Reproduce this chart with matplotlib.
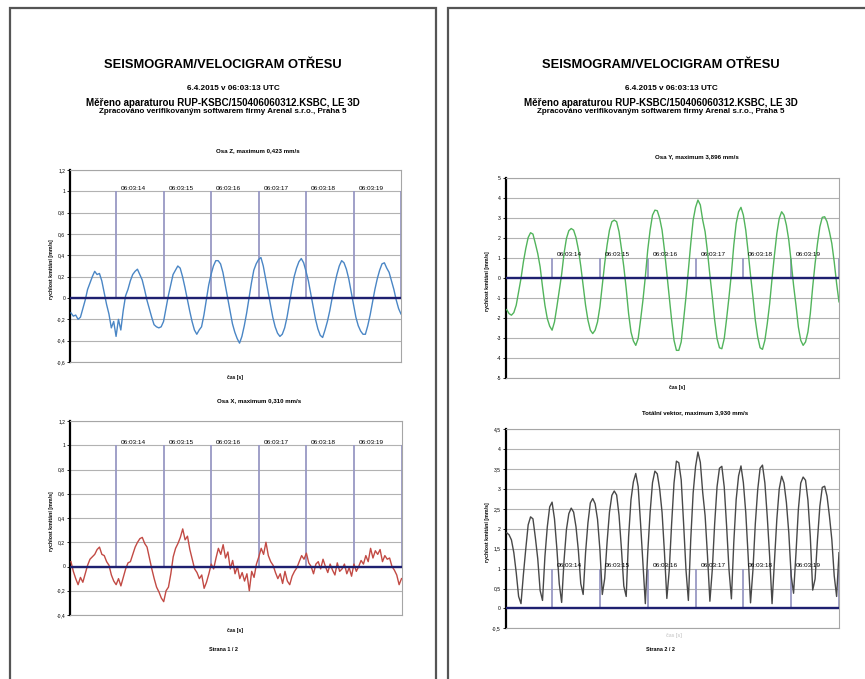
import numpy as np
import matplotlib.pyplot as plt
from matplotlib.patches import Rectangle

plt.rcParams['font.family'] = ['Liberation Sans', 'DejaVu Sans']

# casova osa zaznamu [s], vzorek po 0.05 s
cas = np.round(np.arange(13.05, 20.001, 0.05), 2)

# znacky celych sekund
sekundy = [14, 15, 16, 17, 18, 19, 20]
popisky_sekund = ['06:03:14', '06:03:15', '06:03:16', '06:03:17', '06:03:18', '06:03:19', '']

# osa Z [mm/s]
osa_z = [-0.14, -0.17, -0.16, -0.20, -0.18, -0.10, -0.02, 0.08, 0.14, 0.20,
         0.25, 0.22, 0.23, 0.16, 0.05, -0.06, -0.15, -0.28, -0.22, -0.36,
         -0.20, -0.30, -0.12, 0.02, 0.08, 0.16, 0.22, 0.25, 0.27, 0.22,
         0.17, 0.08, -0.02, -0.10, -0.18, -0.25, -0.27, -0.28, -0.27, -0.22,
         -0.10, 0.02, 0.12, 0.22, 0.26, 0.30, 0.28, 0.20, 0.10, -0.01,
         -0.12, -0.22, -0.30, -0.34, -0.30, -0.27, -0.16, -0.02, 0.12, 0.22,
         0.30, 0.35, 0.35, 0.32, 0.24, 0.12, 0.00, -0.12, -0.24, -0.32,
         -0.38, -0.423, -0.36, -0.26, -0.14, 0.00, 0.14, 0.26, 0.32, 0.36,
         0.38, 0.30, 0.18, 0.06, -0.06, -0.18, -0.27, -0.33, -0.36, -0.34,
         -0.28, -0.18, -0.05, 0.08, 0.20, 0.28, 0.34, 0.37, 0.33, 0.25,
         0.16, 0.04, -0.08, -0.20, -0.29, -0.35, -0.37, -0.30, -0.22, -0.12,
         0.00, 0.12, 0.22, 0.30, 0.35, 0.33, 0.27, 0.18, 0.06, -0.06,
         -0.18, -0.26, -0.31, -0.34, -0.34, -0.26, -0.16, -0.04, 0.08, 0.18,
         0.26, 0.32, 0.33, 0.28, 0.24, 0.16, 0.08, -0.02, -0.10, -0.15]

# osa X [mm/s]
osa_x = [0.04, -0.04, -0.10, -0.15, -0.09, -0.13, -0.06, 0.01, 0.06, 0.08,
         0.10, 0.14, 0.16, 0.10, 0.09, 0.04, 0.01, -0.07, -0.12, -0.15,
         -0.10, -0.16, -0.09, -0.02, 0.03, 0.04, 0.10, 0.16, 0.20, 0.23,
         0.24, 0.19, 0.16, 0.07, -0.02, -0.10, -0.17, -0.21, -0.26, -0.29,
         -0.20, -0.17, -0.06, 0.08, 0.15, 0.19, 0.24, 0.31, 0.22, 0.25,
         0.14, 0.06, -0.02, -0.05, -0.10, -0.07, -0.18, -0.13, -0.06, 0.02,
         -0.02, 0.07, 0.15, 0.10, 0.18, 0.07, 0.12, -0.02, 0.05, -0.06,
         0.00, -0.10, -0.05, -0.12, -0.06, -0.20, -0.04, -0.09, 0.02, 0.08,
         0.15, 0.10, 0.20, 0.09, 0.04, 0.01, -0.05, -0.10, -0.06, -0.14,
         -0.04, -0.12, -0.15, -0.08, -0.04, -0.01, 0.04, 0.09, 0.06, 0.11,
         0.03, 0.00, -0.06, 0.02, 0.04, -0.02, 0.06, 0.00, -0.05, 0.02,
         -0.03, -0.07, 0.03, -0.04, -0.02, 0.02, -0.06, -0.01, -0.08, 0.02,
         -0.04, 0.00, 0.05, 0.02, 0.09, 0.04, 0.15, 0.07, 0.13, 0.10,
         0.14, 0.04, 0.09, 0.06, 0.07, 0.00, -0.03, -0.07, -0.15, -0.10]

# osa Y [mm/s]
osa_y = [-1.59, -1.79, -1.87, -1.74, -1.37, -0.70, -0.03, 0.80, 1.47, 2.02,
         2.26, 2.19, 1.72, 1.22, 0.55, -0.45, -1.37, -2.04, -2.42, -2.62,
         -2.21, -1.45, -0.62, 0.18, 1.22, 1.97, 2.36, 2.47, 2.39, 2.02,
         1.42, 0.59, -0.37, -1.37, -2.12, -2.62, -2.79, -2.62, -2.21, -1.45,
         -0.37, 0.72, 1.64, 2.39, 2.81, 2.89, 2.81, 2.31, 1.47, 0.55,
         -0.54, -1.79, -2.71, -3.16, -3.38, -3.04, -2.12, -1.12, 0.05, 1.39,
         2.39, 3.14, 3.39, 3.36, 2.98, 2.39, 1.39, 0.22, -0.95, -2.12,
         -3.13, -3.63, -3.63, -3.21, -2.12, -0.95, 0.38, 1.72, 2.89, 3.53,
         3.896, 3.65, 2.89, 2.31, 1.30, 0.13, -0.95, -2.12, -3.04, -3.50,
         -3.55, -3.04, -2.04, -0.95, 0.22, 1.64, 2.73, 3.31, 3.53, 3.14,
         2.39, 1.30, 0.13, -0.95, -2.12, -2.96, -3.50, -3.58, -3.13, -2.29,
         -1.29, -0.03, 1.14, 2.22, 2.98, 3.31, 3.14, 2.64, 1.89, 0.80,
         -0.37, -1.37, -2.46, -3.13, -3.38, -3.21, -2.71, -1.79, -0.45, 0.72,
         1.72, 2.56, 3.03, 3.06, 2.81, 2.31, 1.72, 0.80, -0.28, -1.20]

# totalni vektor [mm/s]
total = [1.90, 1.85, 1.72, 1.40, 0.90, 0.30, 0.12, 0.85, 1.50, 2.10,
         2.30, 2.25, 1.78, 1.25, 0.45, 0.20, 1.30, 2.05, 2.55, 2.67,
         2.25, 1.50, 0.62, 0.15, 1.20, 1.98, 2.38, 2.52, 2.42, 2.05,
         1.45, 0.62, 0.35, 1.40, 2.15, 2.65, 2.76, 2.63, 2.24, 1.48,
         0.35, 0.75, 1.66, 2.42, 2.84, 2.95, 2.85, 2.34, 1.50, 0.56,
         0.30, 1.80, 2.73, 3.18, 3.39, 3.06, 2.14, 1.14, 0.12, 1.40,
         2.41, 3.16, 3.45, 3.38, 3.00, 2.41, 1.40, 0.25, 0.96, 2.13,
         3.15, 3.70, 3.66, 3.23, 2.14, 0.97, 0.20, 1.74, 2.90, 3.56,
         3.93, 3.67, 2.91, 2.33, 1.32, 0.18, 0.97, 2.13, 3.06, 3.52,
         3.57, 3.05, 2.06, 0.97, 0.24, 1.66, 2.74, 3.33, 3.58, 3.16,
         2.41, 1.32, 0.14, 0.96, 2.13, 2.98, 3.52, 3.60, 3.15, 2.30,
         1.30, 0.12, 1.16, 2.24, 3.00, 3.32, 3.15, 2.66, 1.90, 0.82,
         0.38, 1.38, 2.48, 3.15, 3.30, 3.22, 2.72, 1.80, 0.46, 0.74,
         1.73, 2.57, 3.04, 3.07, 2.82, 2.32, 1.73, 0.82, 0.30, 1.40]

W, H = 865, 679
fig = plt.figure(figsize=(W / 100, H / 100), dpi=100)


def fx(x):
    return x / W


def fy(y):
    return 1 - y / H


def text(x, y, s, size, bold=True, **kw):
    fig.text(fx(x), fy(y), s, ha='center', va='center', fontsize=size,
             fontweight='bold' if bold else 'normal', **kw)


def graf(left, top, right, bottom, data, barva, ylim, krok, fmt):
    ax = fig.add_axes([fx(left), fy(bottom), fx(right - left), (bottom - top) / H])
    ax.plot(cas, data, color=barva, lw=1.0, zorder=3)
    ax.vlines(sekundy, 0, 1, color='#9898c4', lw=1.3, zorder=2)
    ax.axhline(0, color='#1e2070', lw=1.7, zorder=4)
    for s, p in zip(sekundy, popisky_sekund):
        ax.annotate(p, (s, 1), xytext=(3.5, 0.5), textcoords='offset points',
                    fontsize=4.6, ha='left', va='bottom', zorder=5)
    ax.set_xlim(13.03, 20.0)
    ax.set_ylim(ylim)
    ticks = np.arange(ylim[0], ylim[1] + krok / 2, krok)
    ax.set_yticks(ticks)
    ax.set_yticklabels([fmt(v).replace('.', ',') for v in ticks])
    ax.set_xticks([])
    ax.yaxis.grid(True, color='#b2b2b2', lw=0.8)
    ax.set_axisbelow(True)
    for sp in ['top', 'right', 'bottom']:
        ax.spines[sp].set_color('#a6a6a6')
        ax.spines[sp].set_linewidth(0.8)
    ax.spines['left'].set_color('black')
    ax.spines['left'].set_linewidth(1.6)
    ax.tick_params(axis='y', length=2, width=0.6, labelsize=3.6, pad=1.5)
    # popisek osy y
    fig.text(fx(left - 18.5), fy((top + bottom) / 2 + 3.5), 'rychlost kmitání [mm/s]',
             rotation=90, ha='center', va='center', fontsize=3.8, fontweight='bold')
    return ax


def f1(v):
    return '%g' % round(v, 1)


# ramecky stranek
for x0, x1 in [(9.5, 436), (447.5, 900)]:
    fig.add_artist(Rectangle((fx(x0), fy(700)), fx(x1 - x0), (700 - 8.5) / H,
                             transform=fig.transFigure, fill=False,
                             ec='#555555', lw=1.6))

# hlavicky obou stranek
for cx in [223, 661]:
    text(cx, 64.5, 'SEISMOGRAM/VELOCIGRAM OTŘESU', 9.3)
    text(cx + 10, 89, '6.4.2015 v 06:03:13 UTC', 5.9)
    text(cx, 103.5, 'Měřeno aparaturou RUP-KSBC/150406060312.KSBC, LE 3D', 7)
    text(cx, 111.5, 'Zpracováno verifikovaným softwarem firmy Arenal s.r.o., Praha 5', 5.8)

# strana 1
graf(70, 170, 401, 362, osa_z, '#4a86c5', (-0.6, 1.2), 0.2, f1)
text(258, 151, 'Osa Z, maximum 0,423 mm/s', 4.4)
text(235, 378, 'čas [s]', 3.6)

graf(70, 421, 401.5, 615, osa_x, '#c24a44', (-0.4, 1.2), 0.2, f1)
text(259, 401, 'Osa X, maximum 0,310 mm/s', 4.4)
text(235, 630.5, 'čas [s]', 3.6)
text(223, 649.5, 'Strana 1 / 2', 3.9)

# strana 2
graf(505.7, 178, 839, 377.7, osa_y, '#52b45c', (-5, 5), 1, f1)
text(697, 157, 'Osa Y, maximum 3,896 mm/s', 4.4)
text(677, 388, 'čas [s]', 3.6)

graf(505.7, 429.3, 839, 628.3, total, '#484848', (-0.5, 4.5), 0.5, f1)
text(695, 412.7, 'Totální vektor, maximum 3,930 mm/s', 4.4)
text(674, 635, 'čas [s]', 3.6, color='#d0d0d0')
text(660, 649.5, 'Strana 2 / 2', 3.9)

fig.savefig('out.png', dpi=100)
